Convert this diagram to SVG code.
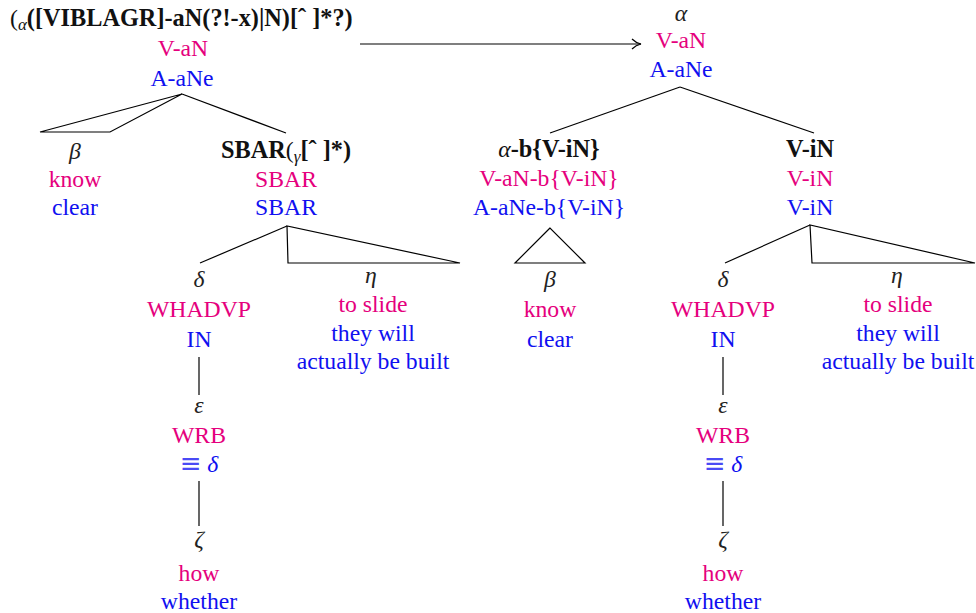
<svg xmlns="http://www.w3.org/2000/svg" width="976" height="613" viewBox="0 0 976 613">
  <defs>
    <style>
      text { font-family: "Liberation Serif", "Times New Roman", serif; font-size: 23.7px; text-anchor: middle; }
      .lbl { fill: #111; }
      .b { font-weight: bold; font-size: 24.3px; }
      .g { font-style: italic; fill: #222; }
      .m { fill: #E5007D; }
      .u { fill: #1010F0; }
      .sub { font-size: 17px; font-style: italic; font-weight: normal; }
      .eq { font-family: "DejaVu Sans", sans-serif; font-size: 26px; fill: #4A4AF5; }
      .edge { stroke: #000; stroke-width: 1.2; fill: none; }
    </style>
    <marker id="arrow" viewBox="0 0 12 12" refX="11" refY="6" markerWidth="12" markerHeight="12" markerUnits="userSpaceOnUse" orient="auto">
      <path d="M2,1 Q6,5 11,6 Q6,7 2,11" fill="none" stroke="#000" stroke-width="1.2"/>
    </marker>
  </defs>

  <!-- connectors -->
  <g id="connectors" class="edge">
    <line x1="360" y1="44" x2="641" y2="44" marker-end="url(#arrow)"/>
    <!-- left tree -->
    <polygon points="182,94 40,132 110,132"/>
    <line x1="182" y1="94" x2="286" y2="133"/>
    <line x1="287" y1="226" x2="200" y2="263"/>
    <polygon points="287,226 288,263 460,263"/>
    <line x1="199" y1="357" x2="199" y2="395"/>
    <line x1="199" y1="481" x2="199" y2="526"/>
    <!-- right tree -->
    <line x1="680" y1="87" x2="550" y2="133"/>
    <line x1="680" y1="87" x2="814" y2="133"/>
    <polygon points="550,228 515,263 585,263"/>
    <line x1="810" y1="225" x2="725" y2="263"/>
    <polygon points="810,225 812,263 975,263"/>
    <line x1="723" y1="357" x2="723" y2="395"/>
    <line x1="723" y1="481" x2="723" y2="526"/>
  </g>

  <!-- left tree nodes -->
  <g id="root-left">
    <text x="10" y="26" style="text-anchor:start" class="lbl">(<tspan class="sub" dy="4">α</tspan><tspan class="b" dy="-4">([VIBLAGR]-aN(?!-x)|N)[ˆ ]*?)</tspan></text>
    <text x="183" y="56" class="m">V-aN</text>
    <text x="182" y="86" class="u">A-aNe</text>
  </g>
  <g id="beta-left">
    <text x="75" y="159" class="g">β</text>
    <text x="75" y="187" class="m">know</text>
    <text x="75" y="215" class="u">clear</text>
  </g>
  <g id="sbar">
    <text x="286" y="158" class="lbl"><tspan class="b">SBAR</tspan>(<tspan class="sub" dy="4">γ</tspan><tspan class="b" dy="-4">[ˆ ]*)</tspan></text>
    <text x="286" y="187" class="m">SBAR</text>
    <text x="286" y="215" class="u">SBAR</text>
  </g>
  <g id="delta-left">
    <text x="199" y="287" class="g">δ</text>
    <text x="199" y="317" class="m">WHADVP</text>
    <text x="199" y="347" class="u">IN</text>
  </g>
  <g id="eta-left">
    <text x="371" y="283" class="g">η</text>
    <text x="373" y="312" class="m">to slide</text>
    <text x="373" y="341" class="u">they will</text>
    <text x="373" y="369" class="u">actually be built</text>
  </g>
  <g id="epsilon-left">
    <text x="199" y="413" class="g">ε</text>
    <text x="199" y="443" class="m">WRB</text>
    <text x="199" y="472" class="u"><tspan class="eq">≡</tspan> <tspan font-style="italic">δ</tspan></text>
  </g>
  <g id="zeta-left">
    <text x="199" y="547" class="g">ζ</text>
    <text x="199" y="581" class="m">how</text>
    <text x="199" y="609" class="u">whether</text>
  </g>

  <!-- right tree nodes -->
  <g id="root-right">
    <text x="681" y="21" class="g">α</text>
    <text x="681" y="48" class="m">V-aN</text>
    <text x="681" y="77" class="u">A-aNe</text>
  </g>
  <g id="alpha-b">
    <text x="549" y="157" class="lbl"><tspan font-style="italic">α</tspan><tspan class="b">-b{V-iN}</tspan></text>
    <text x="549" y="186" class="m">V-aN-b{V-iN}</text>
    <text x="549" y="215" class="u">A-aNe-b{V-iN}</text>
  </g>
  <g id="beta-right">
    <text x="550" y="287" class="g">β</text>
    <text x="550" y="317" class="m">know</text>
    <text x="550" y="347" class="u">clear</text>
  </g>
  <g id="v-in">
    <text x="810" y="157" class="lbl b">V-iN</text>
    <text x="810" y="186" class="m">V-iN</text>
    <text x="810" y="215" class="u">V-iN</text>
  </g>
  <g id="delta-right">
    <text x="723" y="287" class="g">δ</text>
    <text x="723" y="317" class="m">WHADVP</text>
    <text x="723" y="347" class="u">IN</text>
  </g>
  <g id="eta-right">
    <text x="897" y="283" class="g">η</text>
    <text x="898" y="312" class="m">to slide</text>
    <text x="898" y="341" class="u">they will</text>
    <text x="898" y="369" class="u">actually be built</text>
  </g>
  <g id="epsilon-right">
    <text x="723" y="413" class="g">ε</text>
    <text x="723" y="443" class="m">WRB</text>
    <text x="723" y="472" class="u"><tspan class="eq">≡</tspan> <tspan font-style="italic">δ</tspan></text>
  </g>
  <g id="zeta-right">
    <text x="723" y="547" class="g">ζ</text>
    <text x="723" y="581" class="m">how</text>
    <text x="723" y="609" class="u">whether</text>
  </g>
</svg>
